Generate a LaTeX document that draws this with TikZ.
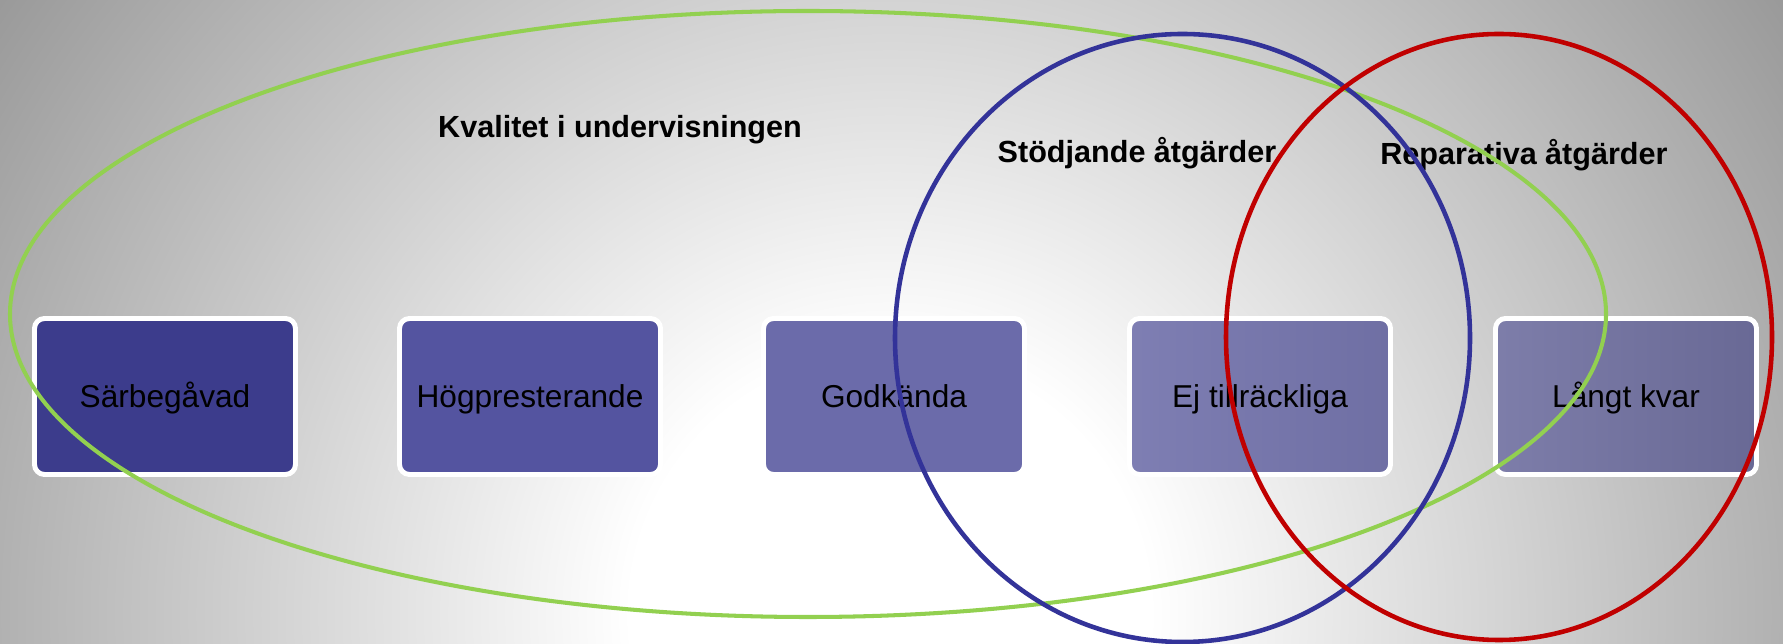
\documentclass[tikz,border=0pt]{standalone}
\usepackage{fontspec}
\setmainfont{Liberation Sans}
\definecolor{BgGray}{HTML}{9A9A9A}
\definecolor{StepA}{HTML}{3C3C8C}
\definecolor{StepB}{HTML}{5454A0}
\definecolor{StepC}{HTML}{6B6BAA}
\definecolor{StepD}{HTML}{7676AE}
\definecolor{StepE}{HTML}{7272A2}
\definecolor{Leaf}{HTML}{92D050}
\definecolor{Navy}{HTML}{333399}
\definecolor{Crimson}{HTML}{C00000}
\pgfdeclareradialshading{BgGlow}{\pgfpoint{0bp}{0bp}}{color(0bp)=(white);color(6bp)=(white);color(25bp)=(BgGray);color(50bp)=(BgGray)}

\begin{document}
\begin{tikzpicture}[every node/.style={font=\fontsize{18}{21}\selectfont,text=black},stepbox/.style={draw=white,line width=2.8pt,rounded corners=0.2cm,minimum width=5.22cm,minimum height=3.12cm,text height=12.9pt,text depth=0pt},head/.style={font=\fontsize{17.4}{21}\selectfont\bfseries},ring/.style={line width=2.6pt}]
\useasboundingbox (0,0) rectangle (35.66,12.88);
\begin{scope}
\clip (0,0) rectangle (35.66,12.88);
\fill[BgGray] (0,0) rectangle (35.66,12.88);
\shade[shading=BgGlow] (17.8,0.6) circle (21.6);
\end{scope}

\node[stepbox,fill=StepA] (sarbegavad) at (3.3,4.95) {Särbegåvad};
\node[stepbox,fill=StepB] (hogpresterande) at (10.6,4.95) {Högpresterande};
\node[stepbox,fill=StepC] (godkanda) at (17.88,4.95) {Godkända};
\node[stepbox,left color=StepD!94!white,right color=StepD!94!black,draw=white] (ejtillrackliga) at (25.2,4.95) {Ej tillräckliga};
\node[stepbox,left color=StepE!92!white,right color=StepE!92!black,draw=white] (langtkvar) at (32.52,4.95) {Långt kvar};

\node[head] (kvalitet) at (12.4,10.29) {Kvalitet i undervisningen};
\node[head] (stodjande) at (22.74,9.82) {Stödjande åtgärder};
\node[head] (reparativa) at (30.48,9.78) {Reparativa åtgärder};

\draw[ring,Leaf,line width=2.3pt] (16.16,6.6) ellipse (15.96 and 6.06);
\draw[ring,Navy] (23.65,6.12) ellipse (5.75 and 6.08);
\draw[ring,Crimson] (29.98,6.14) ellipse (5.46 and 6.06);
\end{tikzpicture}
\end{document}
